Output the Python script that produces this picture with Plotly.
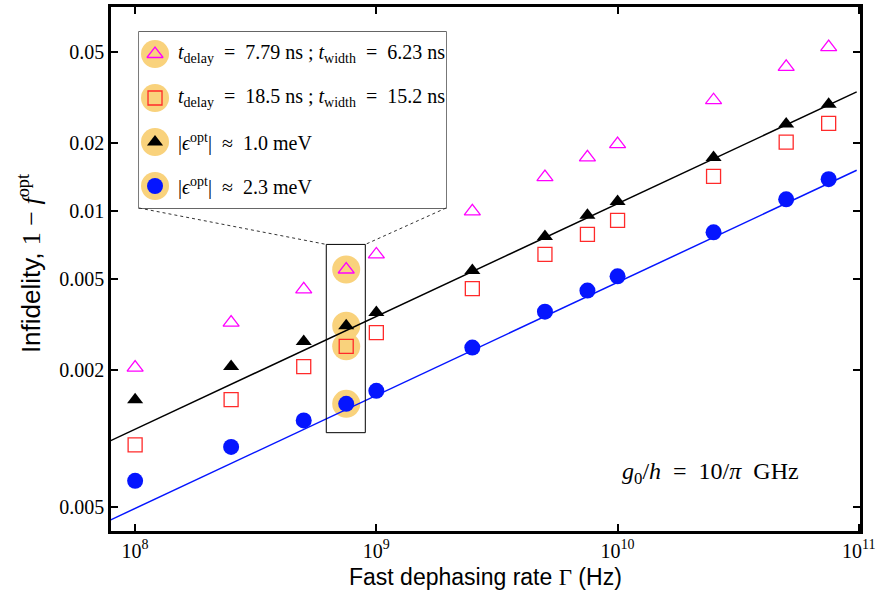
import math
import plotly.graph_objects as go

# ---------------- data ----------------
gamma = [1e8, 2.5e8, 5e8, 7.5e8, 1e9, 2.5e9, 5e9, 7.5e9, 1e10, 2.5e10, 5e10, 7.5e10]
inf_short = [0.00205, 0.00323, 0.00452, 0.00553, 0.00644, 0.00997, 0.0141, 0.0172, 0.0197, 0.0307, 0.0430, 0.0526]
inf_long = [0.000937, 0.00148, 0.00207, 0.00254, 0.00292, 0.00456, 0.00644, 0.00789, 0.00910, 0.0142, 0.0201, 0.0243]
inf_eps1 = [0.00148, 0.00207, 0.00267, 0.00313, 0.00358, 0.00548, 0.00773, 0.00957, 0.0110, 0.0172, 0.0241, 0.0295]
inf_eps2 = [0.000651, 0.000918, 0.00120, 0.00142, 0.00162, 0.00251, 0.00361, 0.00447, 0.00516, 0.00806, 0.01125, 0.0138]
fit_x = [7.9e7, 9.8e10]
fit_eps1 = [0.000977, 0.0334]
fit_eps2 = [0.000438, 0.0151]
zoom_index = 3  # Gamma = 7.5e8 highlighted
zoom_box_x = [6.2e8, 9.0e8]
zoom_box_y = [0.00106, 0.00713]

NB = "\u00a0"
EQ = f"{NB}{NB}={NB}{NB}"
AP = f"{NB}{NB}≈{NB}{NB}"
legend_labels = [
    f"<i>t</i><sub>delay</sub>{EQ}7.79 ns ; <i>t</i><sub>width</sub>{EQ}6.23 ns",
    f"<i>t</i><sub>delay</sub>{EQ}18.5 ns ; <i>t</i><sub>width</sub>{EQ}15.2 ns",
    f"|<i>ϵ</i><sup>opt</sup>|{AP}1.0 meV",
    f"|<i>ϵ</i><sup>opt</sup>|{AP}2.3 meV",
]
x_tickvals = [1e8, 1e9, 1e10, 1e11]
x_ticktext = ["10<sup>8</sup>", "10<sup>9</sup>", "10<sup>10</sup>", "10<sup>11</sup>"]
y_tickvals = [0.05, 0.02, 0.01, 0.005, 0.002, 0.0005]
y_ticktext = ["0.05", "0.02", "0.01", "0.005", "0.002", "0.005"]
x_title = "Fast dephasing rate <span style='font-family:Liberation Serif'>Γ</span> (Hz)"
y_title = "Infidelity, <span style='font-family:Liberation Serif'>1 − <i>f</i><sup>opt</sup></span>"
note_text = f"<i>g</i><sub>0</sub>/<i>h</i>{EQ}10/<i>π</i>{NB}{NB}GHz"

# ---------------- styles ----------------
SERIF = "Liberation Serif"
SANS = "Liberation Sans"
ORANGE = "#F9D27C"
MAGENTA = "#FF00FF"
RED = "#FF2A2A"
BLUE = "#0515FF"

styles = [
    dict(symbol="triangle-up-open", size=14, color=MAGENTA, line=dict(width=1.3, color=MAGENTA)),
    dict(symbol="square-open", size=14, color=RED, line=dict(width=1.3, color=RED)),
    dict(symbol="triangle-up", size=14, color="black", line=dict(width=0)),
    dict(symbol="circle", size=16, color=BLUE, line=dict(width=0)),
]
series = [inf_short, inf_long, inf_eps1, inf_eps2]

xr = [7.90, 11.005]
yr = [-3.407, -1.103]

fig = go.Figure()

# orange highlight circles at the zoomed points
fig.add_trace(go.Scatter(
    x=[gamma[zoom_index]] * 4, y=[s[zoom_index] for s in series],
    mode="markers", marker=dict(symbol="circle", size=28, color=ORANGE),
    showlegend=False, hoverinfo="skip"))

# fit lines
fig.add_trace(go.Scatter(x=fit_x, y=fit_eps1, mode="lines",
                         line=dict(color="black", width=1.5), showlegend=False))
fig.add_trace(go.Scatter(x=fit_x, y=fit_eps2, mode="lines",
                         line=dict(color=BLUE, width=1.5), showlegend=False))

for s, st in zip(series, styles):
    fig.add_trace(go.Scatter(x=gamma, y=s, mode="markers", marker=st, showlegend=False))

# ---------------- custom legend (inset axes) ----------------
lx0, lx1 = 0.0374, 0.4473
ly0, ly1 = 0.6164, 0.9523
rows = list(range(len(legend_labels)))
fig.add_trace(go.Scatter(x=[16] * 4, y=rows, mode="markers",
                         marker=dict(symbol="circle", size=28, color=ORANGE),
                         xaxis="x2", yaxis="y2", showlegend=False, hoverinfo="skip"))
for r, st in zip(rows, styles):
    fig.add_trace(go.Scatter(x=[16], y=[r], mode="markers", marker=st,
                             xaxis="x2", yaxis="y2", showlegend=False))
annotations = []
for r, lab in zip(rows, legend_labels):
    annotations.append(dict(x=37, y=r, xref="x2", yref="y2", text=lab, showarrow=False,
                            xanchor="left", yanchor="middle",
                            font=dict(family=SERIF, size=20, color="black")))

annotations.append(dict(x=0.80, y=0.111, xref="paper", yref="paper", text=note_text,
                        xanchor="center", yanchor="middle",
                        showarrow=False, font=dict(family=SERIF, size=24, color="black")))
annotations.append(dict(x=0.5, y=-0.088, xref="paper", yref="paper", text=x_title,
                        xanchor="center", yanchor="middle", showarrow=False,
                        font=dict(family=SANS, size=23, color="black")))
annotations.append(dict(x=-0.109, y=0.51, xref="paper", yref="paper", text=y_title,
                        xanchor="center", yanchor="middle", showarrow=False, textangle=-90,
                        font=dict(family=SANS, size=26, color="black")))


def px_x(v):
    return (math.log10(v) - xr[0]) / (xr[1] - xr[0])


def px_y(v):
    return (math.log10(v) - yr[0]) / (yr[1] - yr[0])


shapes = [
    dict(type="rect", xref="paper", yref="paper", x0=lx0, x1=lx1, y0=ly0, y1=ly1,
         line=dict(color="#333", width=1.3), fillcolor="white", layer="below"),
    dict(type="rect", xref="x", yref="y", x0=zoom_box_x[0], x1=zoom_box_x[1],
         y0=zoom_box_y[0], y1=zoom_box_y[1], line=dict(color="black", width=1)),
    dict(type="line", xref="paper", yref="paper", x0=lx0, y0=ly0,
         x1=px_x(zoom_box_x[0]), y1=px_y(zoom_box_y[1]),
         line=dict(color="#333", width=1, dash="dot")),
    dict(type="line", xref="paper", yref="paper", x0=lx1, y0=ly0,
         x1=px_x(zoom_box_x[1]), y1=px_y(zoom_box_y[1]),
         line=dict(color="#333", width=1, dash="dot")),
]

axis_common = dict(type="log", showline=True, linewidth=2.5, linecolor="black",
                   mirror="ticks", ticks="inside", ticklen=7, tickwidth=2,
                   tickcolor="black", showgrid=False, zeroline=False, automargin=False,
                   tickfont=dict(family=SERIF, size=20, color="black"))

fig.update_layout(
    width=877, height=596,
    margin=dict(l=111, r=17, t=7, b=65),
    paper_bgcolor="white", plot_bgcolor="white",
    xaxis=dict(axis_common, range=xr, tickmode="array", tickvals=x_tickvals, ticktext=x_ticktext),
    yaxis=dict(axis_common, range=yr, tickmode="array", tickvals=y_tickvals, ticktext=y_ticktext,
               ticklabelstandoff=0),
    xaxis2=dict(domain=[lx0, lx1], anchor="y2", range=[0, 307], visible=False, fixedrange=True),
    yaxis2=dict(domain=[ly0, ly1], anchor="x2", range=[3.5, -0.5], visible=False, fixedrange=True),
    annotations=annotations,
    shapes=shapes,
    showlegend=False,
)

fig.write_html("out.html")
